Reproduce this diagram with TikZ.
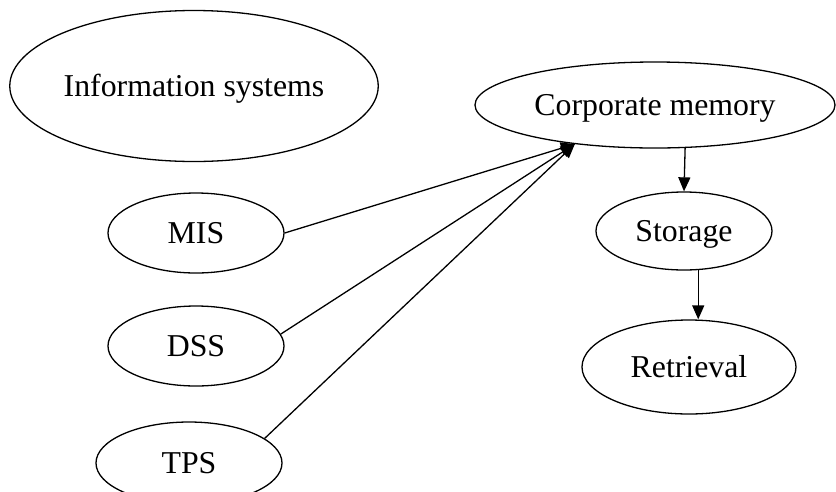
\documentclass[tikz,border=0pt]{standalone}
\usepackage{fontspec}
\setmainfont{Liberation Serif}
\usetikzlibrary{shapes.geometric,arrows.meta}
\begin{document}
\begin{tikzpicture}[x=1pt,y=-1pt,
  oval/.style={draw, ellipse, line width=1.3pt, inner sep=0pt,
    font=\fontsize{31.8}{36}\selectfont, text height=24pt, text depth=4pt},
  link/.style={line width=1.3pt, -{Triangle[length=14pt,width=12pt]}}]
\useasboundingbox (0,0) rectangle (836,491);

% systems and the memory they feed
\node[oval, minimum width=364pt, minimum height=151pt] (info) at (194,86) {Information systems};
\node[oval, minimum width=360pt, minimum height=86pt] (corp) at (655,105) {Corporate memory};
\node[oval, minimum width=176pt, minimum height=80pt] (mis) at (196,233) {MIS};
\node[oval, minimum width=176pt, minimum height=80pt] (dss) at (196,346) {DSS};
\node[oval, minimum width=186pt, minimum height=82pt] (tps) at (189,463) {TPS};
\node[oval, minimum width=176pt, minimum height=78pt] (storage) at (684,231) {Storage};
\node[oval, minimum width=214pt, minimum height=94pt] (retrieval) at (689,367) {Retrieval};

% connectors
\draw[link] (mis.east) -- (corp.206);
\draw[link] (dss.8) -- (corp.206);
\draw[link] (tps.18) -- (corp.206);
\draw[link] (corp.-55) -- (storage.north);
\draw[link] (storage.-70) -- (storage.-70 |- retrieval.north);
\end{tikzpicture}
\end{document}
